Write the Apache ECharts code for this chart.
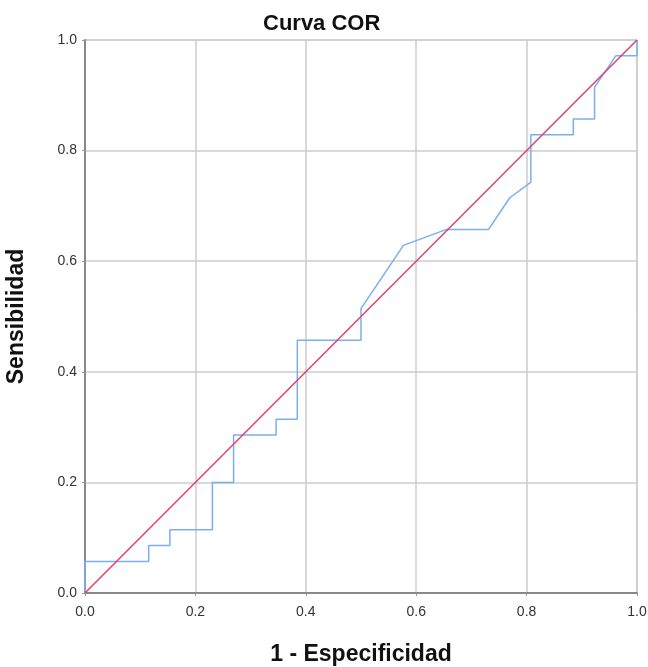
<!DOCTYPE html>
<html>
<head>
<meta charset="utf-8">
<script src="https://cdn.jsdelivr.net/npm/echarts@6/dist/echarts.min.js"></script>
<style>
	html, body { margin: 0; padding: 0; background: #fff; }
	#chart { width: 648px; height: 667px; }
</style>
</head>
<body>
<div id="chart"></div>
<script>
	// puntos de la curva COR (1 - especificidad, sensibilidad)
	var fpr = [0, 0, 0.1154, 0.1154, 0.1538, 0.1538, 0.2308, 0.2308, 0.2692, 0.2692,
		0.3462, 0.3462, 0.3846, 0.3846, 0.5, 0.5, 0.5769, 0.6538, 0.7308, 0.7692,
		0.8077, 0.8077, 0.8846, 0.8846, 0.9231, 0.9231, 0.9615, 1, 1];
	var tpr = [0, 0.0571, 0.0571, 0.0857, 0.0857, 0.1143, 0.1143, 0.2, 0.2, 0.2857,
		0.2857, 0.3143, 0.3143, 0.4571, 0.4571, 0.5143, 0.6286, 0.6571, 0.6571, 0.7143,
		0.7429, 0.8286, 0.8286, 0.8571, 0.8571, 0.9143, 0.9714, 0.9714, 1];
	var refX = [0, 1];
	var refY = [0, 1];
	var ticks = [0, 0.2, 0.4, 0.6, 0.8, 1.0];

	var curve = fpr.map(function (x, i) { return [x, tpr[i]]; });
	var diag = refX.map(function (x, i) { return [x, refY[i]]; });

	var myChart = echarts.init(document.getElementById('chart'));
	var axisCommon = {
		type: 'value',
		min: ticks[0],
		max: ticks[ticks.length - 1],
		interval: 0.2,
		nameLocation: 'middle',
		nameTextStyle: { fontFamily: 'Liberation Sans', fontSize: 23, fontWeight: 'bold', color: '#111' },
		axisLine: { show: true, lineStyle: { color: '#888', width: 2 } },
		axisTick: { show: true, length: 3, lineStyle: { color: '#999' } },
		axisLabel: {
			fontFamily: 'Liberation Sans', fontSize: 14, color: '#333',
			formatter: function (v) { return v.toFixed(1); }
		},
		splitLine: { show: true, lineStyle: { color: '#ccc', width: 1.5 } }
	};
	var option = {
		animation: false,
		title: {
			text: 'Curva COR',
			left: 258,
			top: 8,
			textStyle: { fontFamily: 'Liberation Sans', fontSize: 22, fontWeight: 'bold', color: '#111' }
		},
		grid: {
			left: 85, right: 11, top: 40, bottom: 74,
			outerBoundsMode: 'none',
			containLabel: false,
			show: true, borderColor: '#bbb', borderWidth: 1
		},
		xAxis: Object.assign({}, axisCommon, {
			name: '1 - Especificidad',
			nameGap: 50,
			axisLabel: Object.assign({}, axisCommon.axisLabel, { margin: 12 })
		}),
		yAxis: Object.assign({}, axisCommon, {
			name: 'Sensibilidad',
			nameGap: 57,
			axisLabel: Object.assign({}, axisCommon.axisLabel, { margin: 8 })
		}),
		series: [{
			name: 'curva',
			type: 'line',
			data: curve,
			symbol: 'none',
			lineStyle: { color: '#7aaef0', width: 1.5 }
		}, {
			name: 'referencia',
			type: 'line',
			data: diag,
			symbol: 'none',
			lineStyle: { color: '#e2406c', width: 1.5 }
		}]
	};
	myChart.setOption(option);
</script>
</body>
</html>
